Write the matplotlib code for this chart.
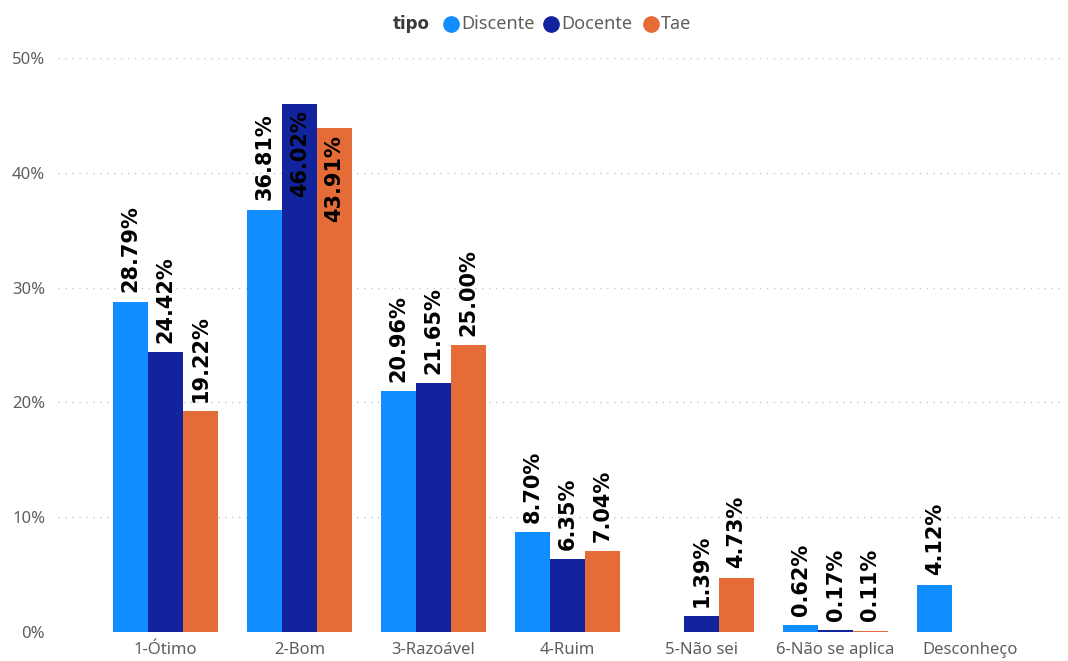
import numpy as np
import matplotlib
matplotlib.use('Agg')
import matplotlib.pyplot as plt
from matplotlib.lines import Line2D

plt.rcParams['font.family'] = ['Noto Sans', 'DejaVu Sans']

categorias = ['1-Ótimo', '2-Bom', '3-Razoável', '4-Ruim', '5-Não sei', '6-Não se aplica', 'Desconheço']
discente = [28.79, 36.81, 20.96, 8.70, np.nan, 0.62, 4.12]
docente = [24.42, 46.02, 21.65, 6.35, 1.39, 0.17, np.nan]
tae = [19.22, 43.91, 25.00, 7.04, 4.73, 0.11, np.nan]
series = ['Discente', 'Docente', 'Tae']
cores = ['#118DFF', '#12239E', '#E66C37']

W, H = 1068, 661
fig = plt.figure(figsize=(W / 100, H / 100), dpi=100)
ax = fig.add_axes([0.054, 0.044, 0.943, 0.868])

x = np.arange(len(categorias))
w = 0.26
for i, (nome, vals, cor) in enumerate(zip(series, [discente, docente, tae], cores)):
    pos = x + (i - 1) * w
    ax.bar(pos, vals, width=w, color=cor, label=nome, zorder=3)
    for p, v in zip(pos, vals):
        if np.isnan(v):
            continue
        txt = '%.2f%%' % v
        if v > 40:
            # no room above, label goes inside the bar
            ax.text(p, v - 0.6, txt, rotation=90, ha='center', va='top', family='DejaVu Sans',
                    fontsize=15, fontweight='bold', color='black', zorder=4)
        else:
            ax.text(p, v + 0.8, txt, rotation=90, ha='center', va='bottom', family='DejaVu Sans',
                    fontsize=15, fontweight='bold', color='black', zorder=4)

ax.set_ylim(0, 50)
ax.set_xlim(-0.806, 6.71)
ax.set_yticks([0, 10, 20, 30, 40, 50])
ax.set_yticklabels(['0%', '10%', '20%', '30%', '40%', '50%'])
ax.set_xticks(x)
ax.set_xticklabels(categorias)
ax.tick_params(axis='both', length=0, labelsize=12, labelcolor='#605E5C')
ax.tick_params(axis='y', pad=9)
ax.tick_params(axis='x', pad=7)
ax.grid(axis='y', linestyle=(0, (1, 4)), color='#C8C8C8', linewidth=1, zorder=0)
for s in ax.spines.values():
    s.set_visible(False)

# legend drawn by hand to match Power BI spacing
ly = 1 - 24 / H
fig.text(393 / W, ly, 'tipo', fontsize=12, family='DejaVu Sans', fontweight='bold',
         color='#3B3A39', va='center')
for cx, tx, nome, cor in zip([451, 551, 651], [461, 561, 661], series, cores):
    fig.add_artist(Line2D([cx / W], [ly], marker='o', markersize=11, color=cor,
                          linestyle='', transform=fig.transFigure))
    fig.text(tx / W, ly, nome, fontsize=13, color='#605E5C', va='center')

fig.savefig('out.png', dpi=100)
